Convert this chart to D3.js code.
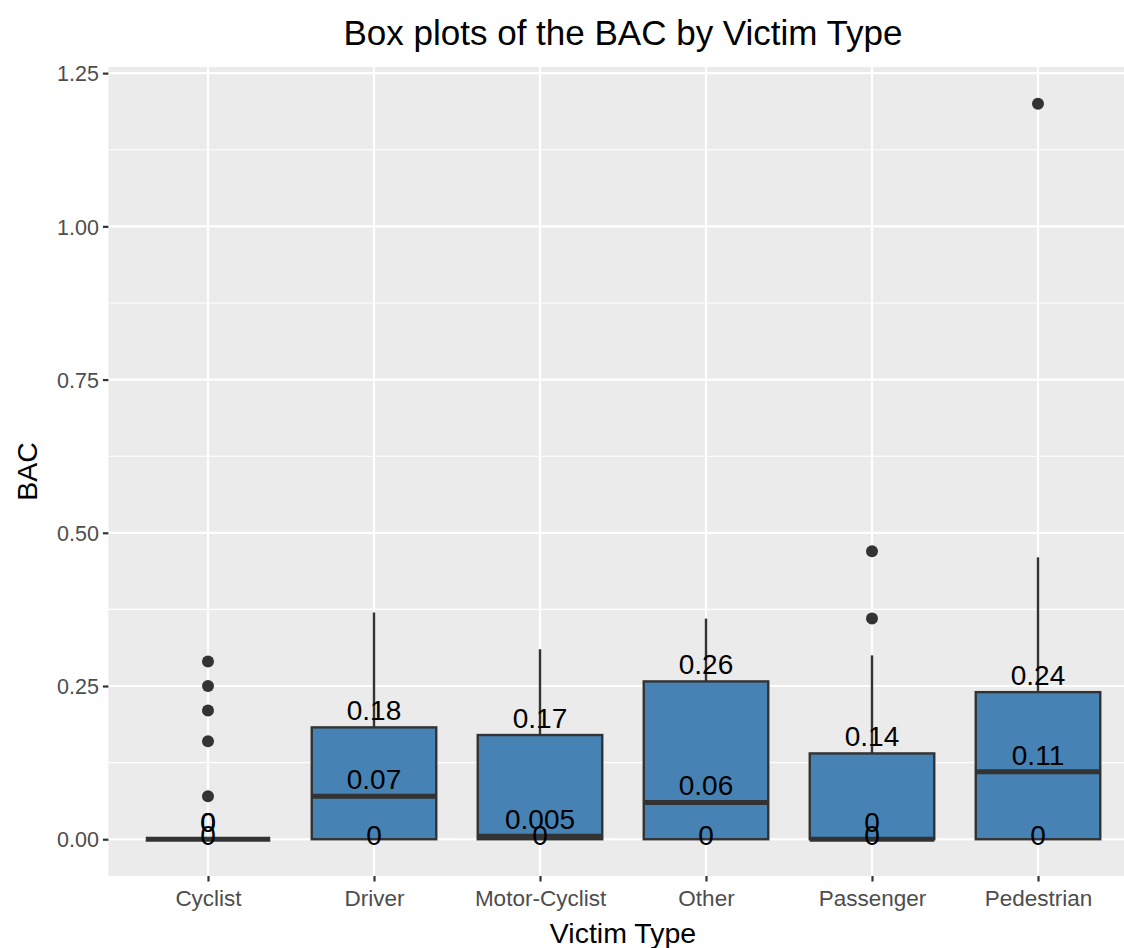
<!DOCTYPE html>
<html>
<head>
<meta charset="utf-8">
<script src="https://cdn.jsdelivr.net/npm/d3@7"></script>
<style>
  html, body { margin: 0; padding: 0; background: #fff; }
  svg { display: block; font-family: "Liberation Sans", Arial, Helvetica, sans-serif; }
</style>
</head>
<body>
<svg id="chart" width="1124" height="948"></svg>
<script>
const categories = ["Cyclist", "Driver", "Motor-Cyclist", "Other", "Passenger", "Pedestrian"];
const q1Values = [0, 0, 0, 0, 0, 0];
const medianValues = [0, 0.07, 0.005, 0.06, 0, 0.11];
const q3Values = [0, 0.1825, 0.17, 0.2575, 0.14, 0.24];
const whiskerHigh = [0, 0.37, 0.31, 0.36, 0.30, 0.46];
const outlierValues = [[0.29, 0.25, 0.21, 0.16, 0.07], [], [], [], [0.47, 0.36], [1.2]];
const q1Labels = ["0", "0", "0", "0", "0", "0"];
const medianLabels = ["0", "0.07", "0.005", "0.06", "0", "0.11"];
const q3Labels = ["0", "0.18", "0.17", "0.26", "0.14", "0.24"];
const yTicks = [0, 0.25, 0.5, 0.75, 1.0, 1.25];
const yMinor = [0.125, 0.375, 0.625, 0.875, 1.125];

const svg = d3.select("#chart");
const panel = { left: 108.4, right: 1137.6, top: 67, bottom: 876 };

const x = d3.scalePoint().domain(categories).range([panel.left, panel.right]).padding(0.6);
const y = d3.scaleLinear().domain([-0.06, 1.26]).range([panel.bottom, panel.top]);
const boxW = x.step() * 0.75;

// panel background
svg.append("rect")
  .attr("x", panel.left).attr("y", panel.top)
  .attr("width", panel.right - panel.left).attr("height", panel.bottom - panel.top)
  .attr("fill", "#EBEBEB");

// grid
const g = svg.append("g");
g.selectAll(".minor").data(yMinor).join("line")
  .attr("x1", panel.left).attr("x2", panel.right)
  .attr("y1", d => y(d)).attr("y2", d => y(d))
  .attr("stroke", "#fff").attr("stroke-width", 1.1);
g.selectAll(".major").data(yTicks).join("line")
  .attr("x1", panel.left).attr("x2", panel.right)
  .attr("y1", d => y(d)).attr("y2", d => y(d))
  .attr("stroke", "#fff").attr("stroke-width", 2.2);
g.selectAll(".vmajor").data(categories).join("line")
  .attr("x1", d => x(d)).attr("x2", d => x(d))
  .attr("y1", panel.top).attr("y2", panel.bottom)
  .attr("stroke", "#fff").attr("stroke-width", 2.2);

// axes
const yAxis = svg.append("g")
  .attr("transform", `translate(${panel.left},0)`)
  .call(d3.axisLeft(y).tickValues(yTicks).tickFormat(d3.format(".2f")).tickSize(5.5).tickPadding(4));
yAxis.select(".domain").remove();
yAxis.selectAll(".tick line").attr("stroke", "#333").attr("stroke-width", 2.2);
yAxis.selectAll(".tick text").attr("fill", "#4D4D4D").style("font-size", "21.5px").attr("dy", "0.36em");

const xAxis = svg.append("g")
  .attr("transform", `translate(0,${panel.bottom})`)
  .call(d3.axisBottom(x).tickSize(5.5).tickPadding(8));
xAxis.select(".domain").remove();
xAxis.selectAll(".tick line").attr("stroke", "#333").attr("stroke-width", 2.2);
xAxis.selectAll(".tick text").attr("fill", "#4D4D4D").style("font-size", "22.5px").attr("dy", "0.74em");

// boxes
const data = categories.map((c, i) => ({
  c, q1: q1Values[i], med: medianValues[i], q3: q3Values[i], hi: whiskerHigh[i],
  out: outlierValues[i], l1: q1Labels[i], lm: medianLabels[i], l3: q3Labels[i]
}));

const boxes = svg.append("g");
boxes.selectAll(".whisker").data(data).join("line")
  .attr("x1", d => x(d.c)).attr("x2", d => x(d.c))
  .attr("y1", d => y(d.q3)).attr("y2", d => y(d.hi))
  .attr("stroke", "#333").attr("stroke-width", 2.4);
boxes.selectAll(".box").data(data).join("rect")
  .attr("x", d => x(d.c) - boxW / 2).attr("width", boxW)
  .attr("y", d => y(d.q3)).attr("height", d => y(d.q1) - y(d.q3))
  .attr("fill", "#4682B4").attr("stroke", "#333").attr("stroke-width", 2.4);
boxes.selectAll(".median").data(data).join("line")
  .attr("x1", d => x(d.c) - boxW / 2).attr("x2", d => x(d.c) + boxW / 2)
  .attr("y1", d => y(d.med)).attr("y2", d => y(d.med))
  .attr("stroke", "#333").attr("stroke-width", 5);

// outliers
const pts = data.flatMap(d => d.out.map(v => ({ c: d.c, v })));
boxes.selectAll(".out").data(pts).join("circle")
  .attr("cx", d => x(d.c)).attr("cy", d => y(d.v)).attr("r", 6)
  .attr("fill", "#333");

// labels
const lab = svg.append("g").attr("text-anchor", "middle").style("font-size", "28px").attr("fill", "#000");
lab.selectAll(".l3").data(data).join("text")
  .attr("x", d => x(d.c)).attr("y", d => y(d.q3) - 7).text(d => d.l3);
lab.selectAll(".lm").data(data).join("text")
  .attr("x", d => x(d.c)).attr("y", d => y(d.med) - 7).text(d => d.lm);
lab.selectAll(".l1").data(data).join("text")
  .attr("x", d => x(d.c)).attr("y", d => y(d.q1) + 6).text(d => d.l1);

// titles
svg.append("text").attr("x", (panel.left + panel.right) / 2).attr("y", 45)
  .attr("text-anchor", "middle").style("font-size", "35px").attr("fill", "#000")
  .text("Box plots of the BAC by Victim Type");
svg.append("text").attr("x", (panel.left + panel.right) / 2).attr("y", 943)
  .attr("text-anchor", "middle").style("font-size", "28.5px").attr("fill", "#000")
  .text("Victim Type");
svg.append("text")
  .attr("transform", `translate(37,${(panel.top + panel.bottom) / 2}) rotate(-90)`)
  .attr("text-anchor", "middle").style("font-size", "28.5px").attr("fill", "#000")
  .text("BAC");
</script>
</body>
</html>
